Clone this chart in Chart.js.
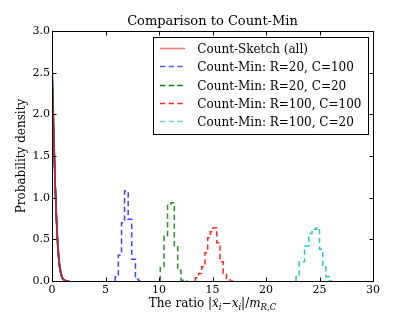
<!DOCTYPE html>
<html>
<head>
<meta charset="utf-8">
<script src="https://cdn.jsdelivr.net/npm/chart.js@4.4.1/dist/chart.umd.min.js"></script>
<style>
  html, body { margin: 0; padding: 0; background: #fff; }
</style>
</head>
<body>
<canvas id="chart" width="415" height="313"></canvas>
<script>
// Axis ticks
const xTickValues = [0, 5, 10, 15, 20, 25, 30];
const yTickValues = [0, 0.5, 1.0, 1.5, 2.0, 2.5, 3.0];
const yTickLabels = ['0.0', '0.5', '1.0', '1.5', '2.0', '2.5', '3.0'];

// Count-Sketch density curves (several runs, one labelled)
const sketchX       = [0, 0.1, 0.2, 0.3, 0.4, 0.5, 0.6, 0.7, 0.8, 0.9, 1.0, 1.1, 1.2, 1.35, 1.6];
const sketchRed     = [2.40, 2.02, 1.58, 1.15, 0.80, 0.52, 0.32, 0.19, 0.11, 0.06, 0.03, 0.015, 0.006, 0.002, 0];
const sketchBlack   = [2.65, 2.15, 1.62, 1.15, 0.78, 0.50, 0.30, 0.17, 0.10, 0.05, 0.025, 0.012, 0.005, 0.002, 0];
const sketchGreen   = [2.55, 2.10, 1.60, 1.14, 0.79, 0.51, 0.31, 0.18, 0.10, 0.055, 0.028, 0.013, 0.005, 0.002, 0];
const sketchBlue    = [2.15, 1.90, 1.52, 1.14, 0.82, 0.55, 0.35, 0.21, 0.12, 0.07, 0.035, 0.017, 0.008, 0.003, 0];
const sketchMagenta = [2.25, 1.95, 1.55, 1.15, 0.81, 0.54, 0.34, 0.20, 0.12, 0.065, 0.032, 0.015, 0.007, 0.002, 0];
const sketchCyan    = [2.35, 2.00, 1.57, 1.15, 0.80, 0.53, 0.33, 0.19, 0.11, 0.06, 0.03, 0.014, 0.006, 0.002, 0];

// Count-Min histograms: bin edges and densities
const cm20x100Edges   = [5.9, 6.2, 6.5, 6.78, 7.12, 7.45, 7.8, 8.1, 8.38];
const cm20x100Heights = [0.04, 0.05, 0.31, 0.70, 1.08, 0.74, 0.26, 0.02];
const cm20x20Edges    = [10.12, 10.47, 10.8, 11.12, 11.43, 11.75, 12.06, 12.37, 12.68];
const cm20x20Heights  = [0.04, 0.16, 0.54, 0.92, 0.94, 0.42, 0.13, 0.01];
const cm100x100Edges   = [13.4, 13.7, 14.0, 14.3, 14.55, 14.8, 15.05, 15.4, 15.7, 16.0, 16.3, 16.65, 16.95];
const cm100x100Heights = [0.02, 0.04, 0.09, 0.17, 0.34, 0.52, 0.59, 0.64, 0.46, 0.23, 0.09, 0.03];
const cm100x20Edges   = [22.8, 23.1, 23.6, 24.0, 24.3, 24.7, 25.0, 25.3, 25.6, 25.9, 26.2];
const cm100x20Heights = [0.02, 0.05, 0.23, 0.42, 0.57, 0.62, 0.64, 0.38, 0.17, 0.05];

const seriesNames = [
  'Count-Sketch (all)',
  'Count-Min: R=20, C=100',
  'Count-Min: R=20, C=20',
  'Count-Min: R=100, C=100',
  'Count-Min: R=100, C=20'
];

const SERIF = '"DejaVu Serif", "Liberation Serif", serif';
const DASH = [5.3, 3.4];

function curve(ys) {
  return sketchX.map((x, i) => ({ x: x, y: ys[i] }));
}

// step outline like a histtype='step' histogram
function steps(edges, heights) {
  const pts = [{ x: edges[0], y: 0 }];
  heights.forEach((h, i) => pts.push({ x: edges[i], y: h }));
  pts.push({ x: edges[edges.length - 1], y: 0 });
  return pts;
}

function sketchSet(ys, color, label) {
  return {
    label: label || '',
    data: curve(ys),
    borderColor: color,
    borderWidth: 1.6,
    pointRadius: 0,
    cubicInterpolationMode: 'monotone',
    fill: false
  };
}

function histSet(edges, heights, color, label) {
  return {
    label: label,
    data: steps(edges, heights),
    borderColor: color,
    borderWidth: 1.5,
    borderDash: DASH,
    pointRadius: 0,
    stepped: 'after',
    fill: false
  };
}

const datasets = [
  sketchSet(sketchRed, 'rgba(255,0,0,0.8)', seriesNames[0]),
  histSet(cm20x100Edges, cm20x100Heights, 'rgba(0,0,255,0.75)', seriesNames[1]),
  histSet(cm20x20Edges, cm20x20Heights, 'rgba(0,128,0,0.85)', seriesNames[2]),
  histSet(cm100x100Edges, cm100x100Heights, 'rgba(255,0,0,0.85)', seriesNames[3]),
  histSet(cm100x20Edges, cm100x20Heights, 'rgba(0,191,191,0.85)', seriesNames[4]),
  sketchSet(sketchCyan, 'rgba(0,191,191,0.8)'),
  sketchSet(sketchMagenta, 'rgba(191,0,191,0.8)'),
  sketchSet(sketchBlue, 'rgba(0,0,255,0.8)'),
  sketchSet(sketchGreen, 'rgba(0,128,0,0.85)'),
  sketchSet(sketchBlack, 'rgba(0,0,0,0.85)')
];

// legend entries: the labelled datasets only
const legendItems = [
  { text: seriesNames[0], color: 'rgba(255,60,60,0.7)', dash: [] },
  { text: seriesNames[1], color: 'rgb(90,90,255)', dash: DASH },
  { text: seriesNames[2], color: 'rgb(0,128,0)', dash: DASH },
  { text: seriesNames[3], color: 'rgb(255,40,40)', dash: DASH },
  { text: seriesNames[4], color: 'rgb(90,215,215)', dash: DASH }
];

const decor = {
  id: 'decor',
  afterDraw(chart) {
    const ctx = chart.ctx;
    const a = chart.chartArea;
    const xs = chart.scales.x, ys = chart.scales.y;
    ctx.save();

    // frame
    ctx.strokeStyle = '#000';
    ctx.lineWidth = 1;
    ctx.setLineDash([]);
    const L = Math.round(a.left) + 0.5, T = Math.round(a.top) + 0.5;
    const R = Math.round(a.right) + 0.5, B = Math.round(a.bottom) + 0.5;
    ctx.strokeRect(L, T, R - L, B - T);

    // inward ticks on all four sides
    ctx.beginPath();
    xTickValues.forEach(v => {
      const px = Math.round(xs.getPixelForValue(v)) + 0.5;
      ctx.moveTo(px, B); ctx.lineTo(px, B - 4);
      ctx.moveTo(px, T); ctx.lineTo(px, T + 4);
    });
    yTickValues.forEach(v => {
      const py = Math.round(ys.getPixelForValue(v)) + 0.5;
      ctx.moveTo(L, py); ctx.lineTo(L + 4, py);
      ctx.moveTo(R, py); ctx.lineTo(R - 4, py);
    });
    ctx.stroke();

    // legend
    ctx.font = '12px ' + SERIF;
    const textW = Math.max(...legendItems.map(it => ctx.measureText(it.text).width));
    const boxR = a.right - 4.5;
    const boxL = boxR - (44 + textW + 7);
    const boxT = a.top + 5.5;
    const rowH = 18.3;
    const boxB = boxT + 11.6 + rowH * (legendItems.length - 1) + 12.3;
    ctx.fillStyle = '#fff';
    ctx.fillRect(boxL, boxT, boxR - boxL, boxB - boxT);
    ctx.strokeStyle = '#000';
    ctx.lineWidth = 1;
    ctx.strokeRect(Math.round(boxL) + 0.5, Math.round(boxT) + 0.5, Math.round(boxR - boxL), Math.round(boxB - boxT));
    ctx.textBaseline = 'middle';
    ctx.textAlign = 'left';
    legendItems.forEach((it, i) => {
      const cy = Math.round(boxT + 11.6 + rowH * i) + 0.5;
      ctx.strokeStyle = it.color;
      ctx.lineWidth = 1.6;
      ctx.setLineDash(it.dash);
      ctx.beginPath();
      ctx.moveTo(Math.round(boxL) + 7, cy);
      ctx.lineTo(Math.round(boxL) + 32, cy);
      ctx.stroke();
      ctx.setLineDash([]);
      ctx.fillStyle = '#000';
      ctx.fillText(it.text, boxL + 44, cy + 1);
    });

    // title
    const cx = (a.left + a.right) / 2;
    ctx.textAlign = 'center';
    ctx.textBaseline = 'alphabetic';
    ctx.font = '13px ' + SERIF;
    ctx.fillText('Comparison to Count-Min', cx, 25);

    // y axis title
    ctx.save();
    ctx.translate(22, (a.top + a.bottom) / 2);
    ctx.rotate(-Math.PI / 2);
    ctx.font = '12px ' + SERIF;
    ctx.textBaseline = 'middle';
    ctx.fillText('Probability density', 0, 0);
    ctx.restore();

    // x axis title with math part
    const reg = '12px ' + SERIF;
    const ital = 'italic 12px ' + SERIF;
    const sub = 'italic 8.5px ' + SERIF;
    const parts = [
      { t: 'The ratio ', f: reg, dy: 0 },
      { t: '|', f: reg, dy: 0 },
      { t: 'x', f: ital, dy: 0, hat: true },
      { t: 'i', f: sub, dy: 3 },
      { t: '\u2212', f: reg, dy: 0 },
      { t: 'x', f: ital, dy: 0 },
      { t: 'i', f: sub, dy: 3 },
      { t: '|/', f: reg, dy: 0 },
      { t: 'm', f: ital, dy: 0 },
      { t: 'R,C', f: sub, dy: 3 }
    ];
    let total = 0;
    parts.forEach(p => { ctx.font = p.f; p.w = ctx.measureText(p.t).width; total += p.w; });
    let x = cx - total / 2;
    const base = 306.5;
    ctx.textAlign = 'left';
    parts.forEach(p => {
      ctx.font = p.f;
      ctx.fillText(p.t, x, base + p.dy);
      if (p.hat) {
        ctx.font = '10px ' + SERIF;
        ctx.textAlign = 'center';
        ctx.fillText('\u02C6', x + p.w / 2 + 1, base - 1);
        ctx.textAlign = 'left';
      }
      x += p.w;
    });

    ctx.restore();
  }
};

new Chart(document.getElementById('chart'), {
  type: 'line',
  data: { datasets: datasets },
  options: {
    responsive: false,
    animation: false,
    layout: { padding: { top: 31, right: 42, left: 0, bottom: 0 } },
    plugins: {
      legend: { display: false },
      title: { display: false },
      tooltip: { enabled: false }
    },
    scales: {
      x: {
        type: 'linear',
        min: 0,
        max: 30,
        afterBuildTicks: s => { s.ticks = xTickValues.map(v => ({ value: v })); },
        afterFit: s => { s.height = 32; },
        ticks: {
          color: '#000',
          font: { family: SERIF, size: 11 },
          padding: 3,
          maxRotation: 0,
          callback: v => String(v)
        },
        grid: { display: false, drawTicks: false },
        border: { display: false }
      },
      y: {
        type: 'linear',
        min: 0,
        max: 3,
        afterBuildTicks: s => { s.ticks = yTickValues.map(v => ({ value: v })); },
        afterFit: s => { s.width = 52; },
        ticks: {
          color: '#000',
          font: { family: SERIF, size: 11 },
          padding: 2,
          callback: (v, i) => yTickLabels[i]
        },
        grid: { display: false, drawTicks: false },
        border: { display: false }
      }
    }
  },
  plugins: [decor]
});
</script>
</body>
</html>
